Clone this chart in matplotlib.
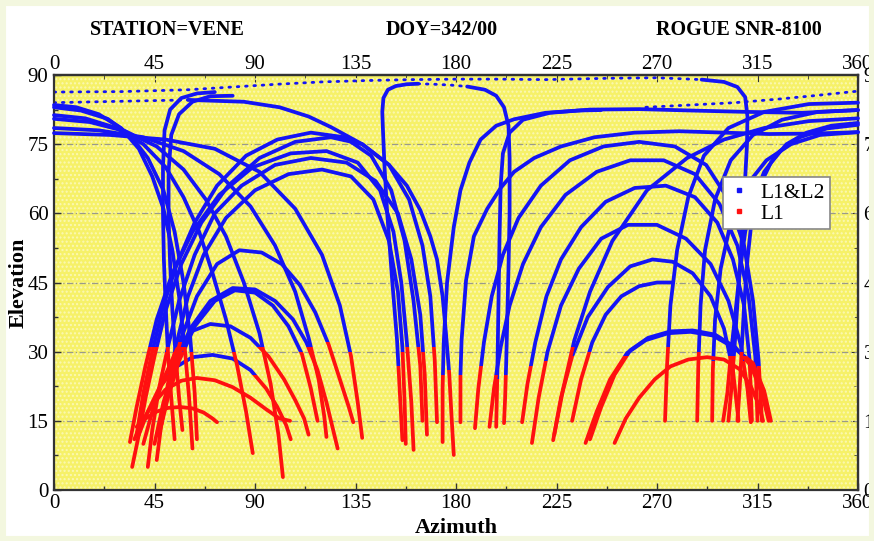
import numpy as np
import matplotlib.pyplot as plt
from matplotlib.patches import Rectangle
from matplotlib.lines import Line2D
from matplotlib.ticker import MultipleLocator

plt.rcParams['font.family'] = ['Liberation Serif', 'DejaVu Serif']

# ---- satellite tracks: (azimuth list, elevation list, red below this elevation)

# tracks coming in from the high west (left edge) and dropping steeply
west_tracks = [
    ([0, 10, 20, 30, 38, 44, 49, 53, 56, 58.5, 60.5, 62],
     [83.5, 83, 81.5, 78.5, 74, 68, 61, 52, 42, 31, 20, 9], 31),
    ([0, 12, 24, 34, 42, 49, 54, 58, 61, 63, 64],
     [83, 82.3, 80.5, 77, 72, 65, 56, 45, 33, 21, 11], 30),
    ([0, 14, 28, 40, 50, 58, 65, 71, 77, 82, 86, 89],
     [81.3, 80.6, 78.5, 75, 70, 63.5, 56, 47, 37, 27, 17, 8], 30),
    ([0, 16, 32, 46, 58, 68, 77, 85, 92, 97, 100.5, 102.5],
     [80.5, 79.8, 77.8, 74.5, 69.5, 63, 55, 45, 34, 23, 12, 2.8], 31),
    ([0, 20, 40, 58, 74, 88, 99, 108, 114, 118.5, 121, 122],
     [78.5, 78, 76.5, 73.5, 68.5, 61.5, 53, 43, 33, 24, 16, 11.5], 31),
    ([0, 25, 50, 72, 92, 108, 120, 128, 133, 136, 138],
     [77.4, 77, 76, 74, 69, 61, 51, 40, 29, 19, 11.3], 30),
    ([60, 85, 101, 114, 124, 138, 150, 158, 164, 168.5, 171.5, 174, 175.5, 177, 178, 179],
     [84.6, 84.2, 83, 81, 78.7, 75, 70.5, 66, 60.7, 55, 50, 42, 34, 25, 16, 7.6], 26),
    # the two near-zenith passes that fold down at az ~50
    ([72, 64, 57, 52, 49.5, 48.8, 48.8, 49.2, 50, 51, 52.5, 54],
     [86.3, 86, 85, 82.5, 78, 70, 60, 50, 40, 30, 20, 11], 31),
    ([80, 70, 62, 56, 52.5, 51.3, 51.3, 52, 53, 54.5, 56, 57.5],
     [85.5, 85.4, 84.2, 81.5, 77, 69, 59, 49, 39, 29, 20, 13], 30),
]

# high passes rising out of the low north-east cluster and setting near az 150-175
high_left = [
    ([35, 38, 41, 45, 50, 57, 66, 78, 92, 108, 124, 138, 150, 159, 165, 168.5, 170.5, 171.5],
     [5, 12, 20, 29, 39, 49, 58, 66, 72, 75.5, 76.5, 75, 70.5, 63, 53, 42, 28, 14.7], 31),
    ([42, 44, 47, 51, 56, 63, 72, 84, 99, 115, 131, 144, 154, 160, 164, 166, 167],
     [5, 13, 22, 31, 41, 51, 60, 66, 70.5, 72, 71, 67, 60, 50, 38, 25, 12], 30),
    ([46, 48, 51, 55, 60, 67, 77, 90, 105, 120, 133, 143, 150, 154, 156, 157, 157.5],
     [6.5, 14, 23, 32, 42, 51, 59, 65, 68.5, 69.5, 68, 63, 54, 43, 31, 19, 10], 30),
    ([34, 37, 41, 46, 53, 62, 74, 89, 106, 122, 136, 146, 152, 155.5, 158, 160, 161],
     [10.4, 18, 27, 37, 47, 56, 64, 70, 73, 73.5, 71, 65, 56, 45, 32, 19, 8.7], 31),
    ([37, 40, 44, 49, 55, 63, 73, 86, 100, 115, 130, 142, 151, 157, 161, 164, 165],
     [12, 21, 30, 40, 49, 58, 66, 72.5, 76, 77.5, 76.5, 72.5, 65, 54, 41, 27, 15], 31),
]

# medium / low passes on the east side of the sky (left half of the plot)
low_left = [
    ([48, 52, 57, 64, 73, 83, 93, 102, 110, 117, 123, 128, 132, 134],
     [14, 24, 33, 42, 49, 52, 51.5, 49, 44.5, 38.5, 31.5, 24, 18, 14.7], 32),
    ([45, 49, 54, 61, 70, 80, 90, 99, 107, 113, 118, 122, 125, 127],
     [10, 19, 27, 35, 41, 43.8, 43.5, 41, 37, 32, 26, 19, 13, 9], 31),
    ([47, 51, 56, 63, 72, 81, 90, 98, 105, 111, 115, 118],
     [12, 20, 28, 35.5, 41, 43.3, 42.8, 40, 35.5, 29.5, 22, 15], 30),
    ([40, 44, 49, 55, 62, 70, 79, 88, 96, 103, 108, 112, 114],
     [10, 17, 24, 30.5, 34.5, 36, 35.5, 33, 29, 24, 19.5, 15.5, 12], 31),
    ([38, 42, 47, 54, 62, 71, 80, 88, 95, 100, 104, 106],
     [12, 17, 22, 26.5, 28.8, 29.3, 28.5, 26, 22, 18, 14, 11], 25),
    ([36, 39, 44, 50, 57, 64, 72, 80, 88, 95, 101, 105.7],
     [11, 14.5, 18.5, 21.8, 23.7, 24.3, 23.8, 22.3, 20, 17.5, 15.5, 15], 40),
    ([37, 41, 46, 51, 56.5, 62, 67, 71, 73],
     [13.7, 15.5, 17, 17.8, 18, 17.7, 16.8, 15.5, 14.7], 40),
]

# passes through the middle of the sky
center_tracks = [
    ([156, 153.6, 151.5, 149.2, 148, 147.3, 147, 147.5, 149.5, 153, 158, 163],
     [10.8, 32.5, 45, 60, 70, 78, 82, 85, 86.8, 87.6, 88, 88.1], 27),
    ([185, 193, 198, 201.5, 203.5, 204, 204, 203.5, 203, 202.5, 202, 201.5],
     [87.5, 86.8, 85.5, 83, 79, 72, 60, 48, 38, 28, 20, 14.5], 25),
    ([174, 174, 174.5, 176, 179, 182, 186, 191, 198, 206, 220, 235, 245],
     [10.4, 22, 32, 45, 57, 65, 71, 76, 79, 80.4, 81.8, 82.3, 82.4], 25),
    ([198, 198.5, 199, 199.5, 200, 201, 204, 210, 222, 240, 262, 285, 310, 335, 360],
     [13.7, 25, 40, 55, 66, 73, 77.5, 80.3, 81.8, 82.5, 82.6, 82.3, 82, 81.8, 82.4], 24),
    ([182, 182, 182.5, 184.5, 188, 194, 200, 206, 215, 227, 242, 260, 280, 300, 320, 340, 360],
     [14.7, 25, 32.5, 45.5, 55, 61, 65.5, 69, 72, 74.5, 76.5, 77.5, 77.8, 77.5, 77.2, 77.3, 77.6], 25),
]

# passes rising in the south-west and setting in the north-west cluster
right_tracks = [
    ([188.5, 190, 192.5, 196, 201, 208, 218, 231, 246, 262, 278, 292, 302, 309, 313, 315.5, 317],
     [13.4, 22, 32, 42, 51, 59, 66, 71.5, 74.5, 75.5, 74.5, 70.5, 63, 53, 41, 28, 15], 27),
    ([195, 197, 200, 204, 210, 218, 229, 243, 258, 273, 287, 298, 306, 311, 314, 315],
     [13.7, 22, 31, 40, 49, 57, 64, 69, 71.5, 71.5, 68.5, 62, 53, 42, 29, 15], 25),
    ([209.6, 212, 215.5, 220.5, 227, 236, 247, 260, 274, 287, 297, 304, 309, 311.5, 312.5],
     [14.7, 23, 32, 42, 50, 57, 62.5, 65.5, 66, 63.5, 58, 50, 40, 28, 15], 27),
    ([214, 217, 221, 227, 235, 245, 257, 270, 283, 294, 302, 307.5, 310.5, 312],
     [10.2, 20, 30, 40, 48, 54.5, 57.5, 57.5, 54.5, 49, 41, 31.5, 22, 14.7], 28),
    ([223.5, 227, 232, 239, 248, 258, 268, 277, 286, 294, 300, 304, 306.5],
     [10.8, 20, 29, 37.5, 44, 48.5, 50, 49.5, 47, 42, 35, 26, 15], 29),
    ([232, 236, 241, 247, 254, 262, 270, 277],
     [15, 24, 32, 38, 42, 44.2, 45, 45], 30),
    ([238, 243, 249, 256.6, 265, 275, 285, 295, 304, 313, 318, 321],
     [10.2, 17, 24, 29.7, 32.5, 34, 34.3, 33.5, 31, 27.5, 21.5, 15], 29),
    ([240, 245, 251, 258, 266, 276, 286, 296, 305, 312, 317, 320],
     [11, 18, 25, 30.3, 33, 34.4, 34.6, 33.7, 31, 27, 21, 15], 29),
    ([251, 256, 262, 269, 276, 284, 292.4, 300, 307, 312, 315.5, 317.5],
     [10.2, 15.5, 20, 24, 26.8, 28.3, 28.8, 28.3, 26.2, 22.5, 18.5, 15], 40),
    ([224, 228, 233, 240, 250, 265.5, 283.5, 300, 318, 338, 360],
     [12, 22, 32.5, 43, 54, 65, 72, 76, 78.5, 80, 80.6], 31),
]

# passes coming in from the high north-west (right edge)
east_tracks = [
    ([360, 348, 337, 328, 321, 316, 312.5, 310.5, 309, 308, 307, 306],
     [79.6, 79, 77.5, 75, 71, 66, 59, 50, 40, 31, 22, 15], 30),
    ([360, 346, 334, 325, 318, 313, 309.5, 307, 305, 303, 301.5, 299.6],
     [79.2, 78.4, 76.5, 73.5, 69, 63, 56, 47, 38, 29, 21, 15], 29),
    ([360, 343, 330, 319, 310, 303, 298.5, 296, 295, 294.7],
     [77.6, 77, 75, 71.5, 66, 58, 48, 37, 26, 15], 28),
    ([360, 342, 326, 313, 303, 296, 291.5, 289.5, 288.5, 288],
     [82.4, 82, 80.3, 77, 71.5, 63, 52, 40, 27, 15], 30),
    ([360, 338, 318, 302, 291, 284, 279, 276, 274.5, 273.6],
     [84, 83.7, 82, 78.5, 72.5, 63.5, 52, 40, 27, 15], 31),
    ([290, 300, 306, 309.5, 310.5, 310.3, 309.2, 308, 306.5, 305, 303.5, 302],
     [89, 88.5, 87.4, 85.2, 81, 75, 65, 55, 44, 33, 23, 15], 29),
]

# sparse (fast moving) points close to the zenith
dotted_tracks = [
    ([0, 30, 60, 80, 100, 120, 140, 160, 180, 200, 220, 250, 270, 290],
     [86.3, 86.4, 86.8, 87.4, 88, 88.5, 88.8, 89, 89.1, 89.1, 89, 89.3, 89.4, 89]),
    ([0, 20, 40, 60], [84, 84.2, 84.4, 84.6]),
    ([163, 170, 178, 185], [88.1, 88, 87.8, 87.5]),
    ([265, 285, 305, 325, 340, 350, 360], [83, 83.5, 84, 84.8, 85.5, 86, 86.5]),
]

az_ticks = [0, 45, 90, 135, 180, 225, 270, 315, 360]
el_ticks = [0, 15, 30, 45, 60, 75, 90]
headers = ["STATION=VENE", "DOY=342/00", "ROGUE SNR-8100"]
header_x = [167, 442, 739]

BLUE = '#1414f5'
RED = '#ff1010'

fig = plt.figure(figsize=(8.74, 5.41), dpi=100, facecolor='white')
fig.patches.append(Rectangle((0, 0), 1, 1, transform=fig.transFigure,
                             facecolor='none', edgecolor='#f3f7df', lw=8))

ax = fig.add_axes([54 / 874, 51 / 541, 804 / 874, 415 / 541])
ax.set_facecolor('#f6f168')
ax.set_xlim(0, 360)
ax.set_ylim(0, 90)

# dotted texture of the plotting area
ax.add_patch(Rectangle((0, 0), 1, 1, transform=ax.transAxes, facecolor='none',
                       edgecolor='#fbf8b4', hatch='....', lw=0, zorder=0.5))

for y in [15, 30, 45, 60, 75]:
    ax.axhline(y, color='#9a9a8a', lw=0.9, ls=(0, (5, 2, 1, 2)), zorder=1)

all_tracks = west_tracks + high_left + low_left + center_tracks + right_tracks + east_tracks

for az, el in dotted_tracks:
    ax.plot(az, el, color=BLUE, lw=2.0, ls=(0, (0.6, 2.4)), dash_capstyle='round', zorder=2)

# blue part first, then the L1-only low part in red on top
for colour, lower in ((BLUE, True), (RED, False)):
    for az, el, cut in all_tracks:
        line, = ax.plot(az, el, color=colour, lw=2.7, solid_capstyle='round',
                        solid_joinstyle='round', zorder=3)
        if lower:
            clip = Rectangle((-10, cut), 380, 110, transform=ax.transData)
        else:
            clip = Rectangle((-10, -10), 380, cut + 10, transform=ax.transData)
        line.set_clip_path(clip)

ax.set_xticks(az_ticks)
ax.set_yticks(el_ticks)
ax.xaxis.set_minor_locator(MultipleLocator(22.5))
ax.yaxis.set_minor_locator(MultipleLocator(7.5))
ax.tick_params(which='both', direction='in', colors='#333333', labelcolor='black',
               labelsize=15)
ax.tick_params(which='major', length=5, width=1)
ax.tick_params(which='minor', length=3, width=1)
ax.tick_params(axis='x', pad=3)
ax.tick_params(axis='y', pad=4)

top = ax.secondary_xaxis('top')
top.set_xticks(az_ticks)
top.xaxis.set_minor_locator(MultipleLocator(22.5))
top.tick_params(which='both', direction='in', labelsize=15, pad=1, colors='#333333',
                labelcolor='black')
top.tick_params(which='major', length=5)
top.tick_params(which='minor', length=3)

right = ax.secondary_yaxis('right')
right.set_yticks(el_ticks)
right.yaxis.set_minor_locator(MultipleLocator(7.5))
right.tick_params(which='both', direction='in', labelsize=15, pad=4, colors='#333333',
                  labelcolor='black')
right.tick_params(which='major', length=5)
right.tick_params(which='minor', length=3)

for sp in list(ax.spines.values()) + [top.spines['top'], right.spines['right']]:
    sp.set_linewidth(1.6)
    sp.set_color('#333333')

ax.set_xlabel('Azimuth', fontsize=16, fontweight='bold', labelpad=3.5)
ax.set_ylabel('Elevation', fontsize=16, fontweight='bold', labelpad=-1)

for txt, x in zip(headers, header_x):
    fig.text(x / 874, 1 - 30 / 541, txt, ha='center', va='center',
             fontsize=14.5, fontweight='bold')

handles = [Line2D([], [], ls='none', marker='s', ms=2.5, color=BLUE),
           Line2D([], [], ls='none', marker='s', ms=2.5, color=RED)]
leg = ax.legend(handles, ['L1&L2', 'L1'], loc='upper left', bbox_to_anchor=(0.832, 0.754),
                fontsize=15.5, frameon=True, fancybox=False, edgecolor='#888888',
                framealpha=1, borderpad=0.25, labelspacing=0.05, handlelength=1.0,
                handletextpad=0.5, borderaxespad=0)
leg.get_frame().set_linewidth(1.2)
leg.set_zorder(5)

fig.savefig('out.png', dpi=100, facecolor=fig.get_facecolor())
